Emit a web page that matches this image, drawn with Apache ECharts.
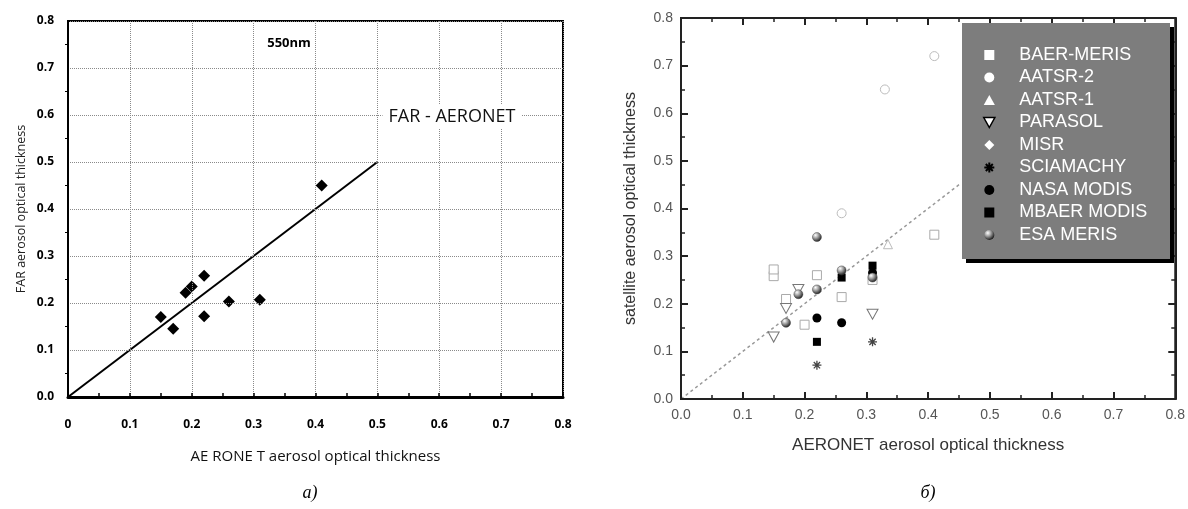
<!DOCTYPE html>
<html>
<head>
<meta charset="utf-8">
<script src="https://cdn.jsdelivr.net/npm/echarts@6/dist/echarts.min.js"></script>
<style>
  html, body { margin: 0; padding: 0; background: #fff; }
  #chart { width: 1188px; height: 509px; }
</style>
</head>
<body>
<div id="chart"></div>
<script>
// ---- данные: панель а) FAR vs AERONET ----
var farX = [0.15, 0.17, 0.19, 0.20, 0.22, 0.22, 0.26, 0.31, 0.41];
var farY = [0.17, 0.145, 0.222, 0.235, 0.258, 0.172, 0.203, 0.207, 0.45];
var fitLine = [[0, 0], [0.5, 0.5]];

// ---- данные: панель б) спутники vs AERONET ----
var baerMeris  = [[0.15, 0.258], [0.15, 0.272], [0.17, 0.21], [0.20, 0.156], [0.22, 0.26], [0.26, 0.214], [0.31, 0.25], [0.41, 0.345]];
var aatsr2     = [[0.26, 0.39], [0.33, 0.65], [0.41, 0.72]];
var aatsr1     = [[0.335, 0.325]];
var parasol    = [[0.15, 0.13], [0.17, 0.19], [0.19, 0.23], [0.31, 0.178]];
var misr       = [];
var sciamachy  = [[0.22, 0.071], [0.31, 0.12]];
var nasaModis  = [[0.22, 0.17], [0.26, 0.16], [0.31, 0.265]];
var mbaerModis = [[0.22, 0.12], [0.26, 0.255], [0.31, 0.28]];
var esaMeris   = [[0.17, 0.16], [0.19, 0.22], [0.22, 0.23], [0.22, 0.34], [0.26, 0.27], [0.31, 0.255]];
var oneToOne   = [[0, 0], [0.45, 0.45]];

var chart = echarts.init(document.getElementById('chart'));

var boldFont = "'Open Sans', 'Liberation Sans', sans-serif";
var arial = "'Liberation Sans', Arial, sans-serif";

var farPoints = farX.map(function (x, i) { return [x, farY[i]]; });

var downTri = 'path://M0,0L10,0L5,9Z';
var star = 'path://M0,5L10,5M5,0L5,10M1.5,1.5L8.5,8.5M8.5,1.5L1.5,8.5';
var sq = 'path://M0,0L10,0L10,10L0,10Z';
var tri = 'path://M5,0L10,9L0,9Z';
var dia = 'path://M5,0L10,5L5,10L0,5Z';
// отдельный объект градиента на каждое использование
function shaded() {
    return {
        type: 'radial', x: 0.35, y: 0.3, r: 0.75,
        colorStops: [{offset: 0, color: '#fff'}, {offset: 0.45, color: '#999'}, {offset: 1, color: '#111'}]
    };
}

// оси рисуем на отдельном слое (zlevel 1), чтобы рамка и засечки точно были видны
function rightAxisBase(extra) {
    var o = {
        gridIndex: 1, type: 'value', min: 0, max: 0.8, interval: 0.1, zlevel: 1,
        axisLine: {show: true, onZero: false, lineStyle: {color: '#222', width: 2, opacity: 1}},
        axisTick: {show: true, inside: true, length: 7, lineStyle: {color: '#222', width: 2, opacity: 1}},
        minorTick: {show: true, splitNumber: 2, length: 4, lineStyle: {color: '#222', width: 1.5, opacity: 1}},
        splitLine: {show: false},
        axisLabel: {show: false}
    };
    for (var k in extra) o[k] = extra[k];
    return o;
}

var option = {
    animation: false,
    grid: [
        {left: 68, top: 21, width: 495, height: 376, show: true, borderColor: '#000', borderWidth: 2},
        {left: 681, top: 18, width: 495, height: 381, show: true, borderColor: '#222', borderWidth: 2, zlevel: 1}
    ],
    xAxis: [
        {
            gridIndex: 0, type: 'value', min: 0, max: 0.8, interval: 0.1, zlevel: 1,
            name: 'AE RONE T aerosol optical thickness', nameLocation: 'middle', nameGap: 52,
            nameTextStyle: {fontFamily: boldFont, fontSize: 15, color: '#111'},
            axisLine: {show: true, onZero: false, lineStyle: {color: '#000', width: 3}},
            axisTick: {show: true, inside: true, length: 4, lineStyle: {color: '#000', width: 1.5}},
            minorTick: {show: true, splitNumber: 2, length: 4, lineStyle: {color: '#000', width: 1.5}},
            splitLine: {show: true, lineStyle: {color: '#8a8a8a', type: 'dotted', width: 1}},
            axisLabel: {
                margin: 22, fontFamily: boldFont, fontWeight: 'bold', fontSize: 12, color: '#000',
                formatter: function (v) { return v === 0 ? '0' : v.toFixed(1); }
            }
        },
        rightAxisBase({
            position: 'bottom',
            name: 'AERONET aerosol optical thickness', nameLocation: 'middle', nameGap: 38,
            nameTextStyle: {fontFamily: arial, fontSize: 17, color: '#333'},
            axisLabel: {show: true, margin: 9, fontFamily: arial, fontSize: 14, color: '#555',
                formatter: function (v) { return v.toFixed(1); }}
        }),
        rightAxisBase({position: 'top'})
    ],
    yAxis: [
        {
            gridIndex: 0, type: 'value', min: 0, max: 0.8, interval: 0.1, zlevel: 1,
            name: 'FAR aerosol optical thickness', nameLocation: 'middle', nameGap: 40,
            nameTextStyle: {fontFamily: boldFont, fontSize: 12.5, color: '#222'},
            axisLine: {show: true, onZero: false, lineStyle: {color: '#000', width: 2}},
            axisTick: {show: false},
            minorTick: {show: true, splitNumber: 2, length: 3, lineStyle: {color: '#000', width: 1}},
            splitLine: {show: true, lineStyle: {color: '#8a8a8a', type: 'dotted', width: 1}},
            axisLabel: {
                margin: 14, fontFamily: boldFont, fontWeight: 'bold', fontSize: 12, color: '#000',
                formatter: function (v) { return v.toFixed(1); }
            }
        },
        rightAxisBase({
            position: 'left',
            name: 'satellite aerosol optical thickness', nameLocation: 'middle', nameGap: 42,
            nameTextStyle: {fontFamily: arial, fontSize: 16, color: '#333'},
            axisLabel: {show: true, margin: 8, fontFamily: arial, fontSize: 14, color: '#555',
                formatter: function (v) { return v.toFixed(1); }}
        }),
        rightAxisBase({position: 'right'})
    ],
    legend: {
        orient: 'vertical', left: 983, top: 46, padding: 0,
        itemWidth: 50, itemHeight: 10, itemGap: 4.5,
        selectedMode: false, zlevel: 2, z: 10,
        textStyle: {color: '#fff', fontSize: 18, lineHeight: 18, fontFamily: arial},
        data: [
            {name: 'BAER-MERIS', icon: sq, itemStyle: {color: '#fff', borderWidth: 0}},
            {name: 'AATSR-2', icon: 'circle', itemStyle: {color: '#fff', borderWidth: 0}},
            {name: 'AATSR-1', icon: tri, itemStyle: {color: '#fff', borderWidth: 0}},
            {name: 'PARASOL', icon: downTri, itemStyle: {color: '#fff', borderColor: '#000', borderWidth: 1.5}},
            {name: 'MISR', icon: dia, itemStyle: {color: '#fff', borderWidth: 0}},
            {name: 'SCIAMACHY', icon: star, itemStyle: {color: 'transparent', borderColor: '#000', borderWidth: 2}},
            {name: 'NASA MODIS', icon: 'circle', itemStyle: {color: '#000', borderWidth: 0}},
            {name: 'MBAER MODIS', icon: sq, itemStyle: {color: '#000', borderWidth: 0}},
            {name: 'ESA MERIS', icon: 'circle', itemStyle: {color: shaded(), borderWidth: 0}}
        ]
    },
    graphic: [
        {type: 'rect', zlevel: 2, z: 5, shape: {x: 966, y: 27, width: 208, height: 236}, style: {fill: '#000'}},
        {type: 'rect', zlevel: 2, z: 6, shape: {x: 962, y: 23, width: 208, height: 236}, style: {fill: '#7d7d7d'}},
        {type: 'text', zlevel: 2, z: 6, x: 289, y: 43, style: {text: '550nm', fontFamily: boldFont, fontWeight: 'bold', fontSize: 13, fill: '#000', align: 'center', verticalAlign: 'middle'}},
        {type: 'text', zlevel: 2, z: 6, x: 452, y: 117, style: {text: 'FAR - AERONET', fontFamily: boldFont, fontSize: 18, fill: '#111', align: 'center', verticalAlign: 'middle', backgroundColor: '#fff', padding: [3, 6]}},
        {type: 'text', zlevel: 2, z: 6, x: 310, y: 493, style: {text: 'а)', fontFamily: "'Liberation Serif', serif", fontStyle: 'italic', fontSize: 18, fill: '#000', align: 'center', verticalAlign: 'middle'}},
        {type: 'text', zlevel: 2, z: 6, x: 928, y: 493, style: {text: 'б)', fontFamily: "'Liberation Serif', serif", fontStyle: 'italic', fontSize: 18, fill: '#000', align: 'center', verticalAlign: 'middle'}}
    ],
    series: [
        {type: 'line', xAxisIndex: 0, yAxisIndex: 0, data: fitLine, showSymbol: false,
            lineStyle: {color: '#000', width: 2}, z: 3},
        {type: 'scatter', xAxisIndex: 0, yAxisIndex: 0, data: farPoints, symbol: dia, symbolSize: 12,
            itemStyle: {color: '#000', opacity: 1}, z: 4},

        {type: 'line', xAxisIndex: 1, yAxisIndex: 1, data: oneToOne, showSymbol: false,
            lineStyle: {color: '#999', width: 1.5, type: [3, 3]}, z: 1},
        {name: 'BAER-MERIS', type: 'scatter', xAxisIndex: 1, yAxisIndex: 1, data: baerMeris, symbol: 'rect', symbolSize: 9,
            itemStyle: {color: '#fff', borderColor: '#aaa', borderWidth: 1, opacity: 1}},
        {name: 'AATSR-2', type: 'scatter', xAxisIndex: 1, yAxisIndex: 1, data: aatsr2, symbol: 'circle', symbolSize: 9,
            itemStyle: {color: '#fff', borderColor: '#bbb', borderWidth: 1, opacity: 1}},
        {name: 'AATSR-1', type: 'scatter', xAxisIndex: 1, yAxisIndex: 1, data: aatsr1, symbol: 'triangle', symbolSize: 9,
            itemStyle: {color: '#fff', borderColor: '#bbb', borderWidth: 1, opacity: 1}},
        {name: 'PARASOL', type: 'scatter', xAxisIndex: 1, yAxisIndex: 1, data: parasol, symbol: downTri, symbolSize: [11, 10],
            itemStyle: {color: '#fff', borderColor: '#777', borderWidth: 1, opacity: 1}},
        {name: 'MISR', type: 'scatter', xAxisIndex: 1, yAxisIndex: 1, data: misr, symbol: 'diamond', symbolSize: 10,
            itemStyle: {color: '#fff', borderColor: '#bbb', borderWidth: 1, opacity: 1}},
        {name: 'SCIAMACHY', type: 'scatter', xAxisIndex: 1, yAxisIndex: 1, data: sciamachy, symbol: star, symbolSize: 9,
            itemStyle: {color: 'transparent', borderColor: '#444', borderWidth: 1.3, opacity: 1}},
        {name: 'NASA MODIS', type: 'scatter', xAxisIndex: 1, yAxisIndex: 1, data: nasaModis, symbol: 'circle', symbolSize: 9,
            itemStyle: {color: '#000', opacity: 1}},
        {name: 'MBAER MODIS', type: 'scatter', xAxisIndex: 1, yAxisIndex: 1, data: mbaerModis, symbol: 'rect', symbolSize: 8,
            itemStyle: {color: '#000', opacity: 1}},
        {name: 'ESA MERIS', type: 'scatter', xAxisIndex: 1, yAxisIndex: 1, data: esaMeris, symbol: 'circle', symbolSize: 9,
            itemStyle: {color: shaded(), borderColor: '#444', borderWidth: 0.5, opacity: 1}}
    ]
};

chart.setOption(option);
chart.getZr().refreshImmediately();
</script>
</body>
</html>
